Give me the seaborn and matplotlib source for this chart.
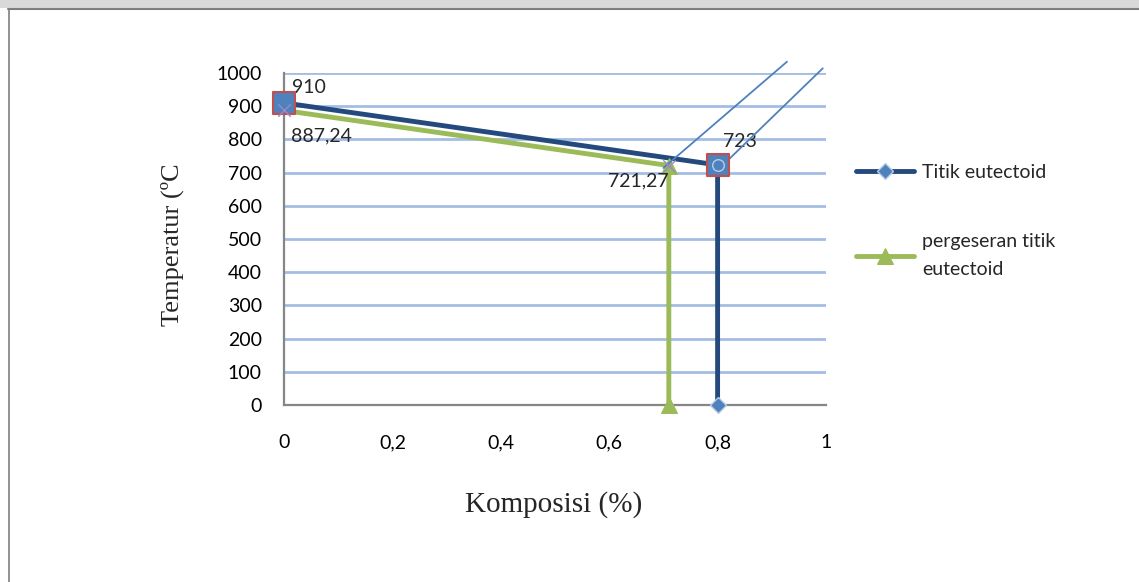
import matplotlib
matplotlib.use("Agg")
import matplotlib.pyplot as plt
import seaborn as sns
import numpy as np
from matplotlib.patches import Rectangle
from matplotlib.lines import Line2D

# ---- data ----
blue_x = [0.0, 0.8, 0.8]
blue_y = [910, 723, 0]
green_x = [0.0, 0.71, 0.71]
green_y = [887.24, 721.27, 0]
tan1_x = [0.70, 0.928]
tan1_y = [714, 1034]
tan2_x = [0.81, 0.994]
tan2_y = [723, 1014]
square_x = [0.0, 0.8]
square_y = [910, 723]
cross_x = [0.0, 0.71]
cross_y = [887.24, 721.27]
x_ticks = [0, 0.2, 0.4, 0.6, 0.8, 1.0]
x_ticklabels = ["0", "0,2", "0,4", "0,6", "0,8", "1"]
y_ticks = list(range(0, 1001, 100))
y_ticklabels = [str(v) for v in y_ticks]
series_names = ["Titik eutectoid", "pergeseran titik\neutectoid"]

sns.set_theme(style="white")
plt.rcParams['font.family'] = ['Lato', 'DejaVu Sans']

W, H = 1139, 582
fig = plt.figure(figsize=(W / 100, H / 100), dpi=100)
fig.patch.set_facecolor("white")

def fx(px):
    return px / W
def fy(py):
    return 1 - py / H

# frame / background band
fig.patches.append(Rectangle((0, fy(8)), 1, 8 / H, transform=fig.transFigure,
                             facecolor="#d9d9d9", edgecolor="none", zorder=0))
fig.lines.append(Line2D([fx(8), 1], [fy(8.5), fy(8.5)], transform=fig.transFigure,
                        color="#7f7f7f", lw=1.5))
fig.lines.append(Line2D([fx(8.5), fx(8.5)], [0, fy(8.5)], transform=fig.transFigure,
                        color="#7f7f7f", lw=1.2))

ax = fig.add_axes([fx(284), fy(405), fx(826) - fx(284), fy(73) - fy(405)])
ax.set_facecolor("none")

GRID = "#a4bde3"
for v in y_ticks[1:]:
    ax.axhline(v, color=GRID, lw=2, zorder=0)

blue_dark = "#244a7d"
green = "#9bbb59"
mblue = "#4f81bd"

sns.lineplot(x=blue_x, y=blue_y, sort=False, estimator=None, ax=ax, color=blue_dark,
             lw=3.5, marker="D", markersize=8, markerfacecolor=mblue,
             markeredgecolor="#b8cce4", markeredgewidth=1, label=series_names[0], zorder=3,
             clip_on=False)
sns.lineplot(x=green_x, y=green_y, sort=False, estimator=None, ax=ax, color=green,
             lw=3.5, marker="^", markersize=11, markerfacecolor=green,
             markeredgecolor=green, markevery=[1, 2], label=series_names[1], zorder=3,
             clip_on=False)
sns.lineplot(x=tan1_x, y=tan1_y, sort=False, estimator=None, ax=ax, color=mblue, lw=1.3,
             zorder=4, legend=False, clip_on=False)
sns.lineplot(x=tan2_x, y=tan2_y, sort=False, estimator=None, ax=ax, color=mblue, lw=1.3,
             zorder=4, legend=False, clip_on=False)
ax.scatter(square_x, square_y, marker="s", s=260, facecolor=mblue, edgecolor="#c0504d",
           linewidth=1.5, zorder=5, clip_on=False)
ax.scatter([0.8], [723], marker="o", s=70, facecolor=mblue, edgecolor="#b8cce4",
           linewidth=1, zorder=6)
ax.scatter(cross_x, cross_y, marker="x", s=80, color="#9b87c9", linewidth=1, zorder=6,
           clip_on=False)

ax.set_xlim(0, 1)
ax.set_ylim(0, 1000)
ax.set_xticks(x_ticks)
ax.set_xticklabels(x_ticklabels)
ax.set_yticks(y_ticks)
ax.set_yticklabels(y_ticklabels)
ax.tick_params(axis="both", which="both", direction="out", length=6, width=1.3,
               color="#868686", labelsize=14, labelcolor="black")
ax.tick_params(axis="x", pad=15)
ax.tick_params(axis="y", pad=10)
for s in ["top", "right"]:
    ax.spines[s].set_visible(False)
for s in ["left", "bottom"]:
    ax.spines[s].set_color("#868686")
    ax.spines[s].set_linewidth(1.6)
ax.grid(False)

# data labels
ax.text(0.015, 930, "910", fontsize=14, ha="left", va="bottom")
ax.text(0.013, 785, "887,24", fontsize=14, ha="left", va="bottom")
ax.text(0.71, 650, "721,27", fontsize=14, ha="right", va="bottom")
ax.text(0.842, 767, "723", fontsize=14, ha="center", va="bottom")

# axis titles
ax.set_xlabel("")
ax.set_ylabel("")
fig.text(fx(554), fy(505), "Komposisi (%)", fontsize=21, family=["Liberation Serif"],
         ha="center", va="center")
fig.text(fx(172), fy(245), "Temperatur (ºC", fontsize=19, family=["Liberation Serif"],
         ha="center", va="center", rotation=90)

leg = ax.legend(loc="upper left", bbox_to_anchor=(fx(848), fy(156)),
                bbox_transform=fig.transFigure, frameon=False, fontsize=14,
                labelspacing=2.7, handlelength=3.0, handletextpad=0.4, borderaxespad=0)
for t in leg.get_texts():
    t.set_linespacing(1.8)

fig.savefig("out.png", dpi=100)
